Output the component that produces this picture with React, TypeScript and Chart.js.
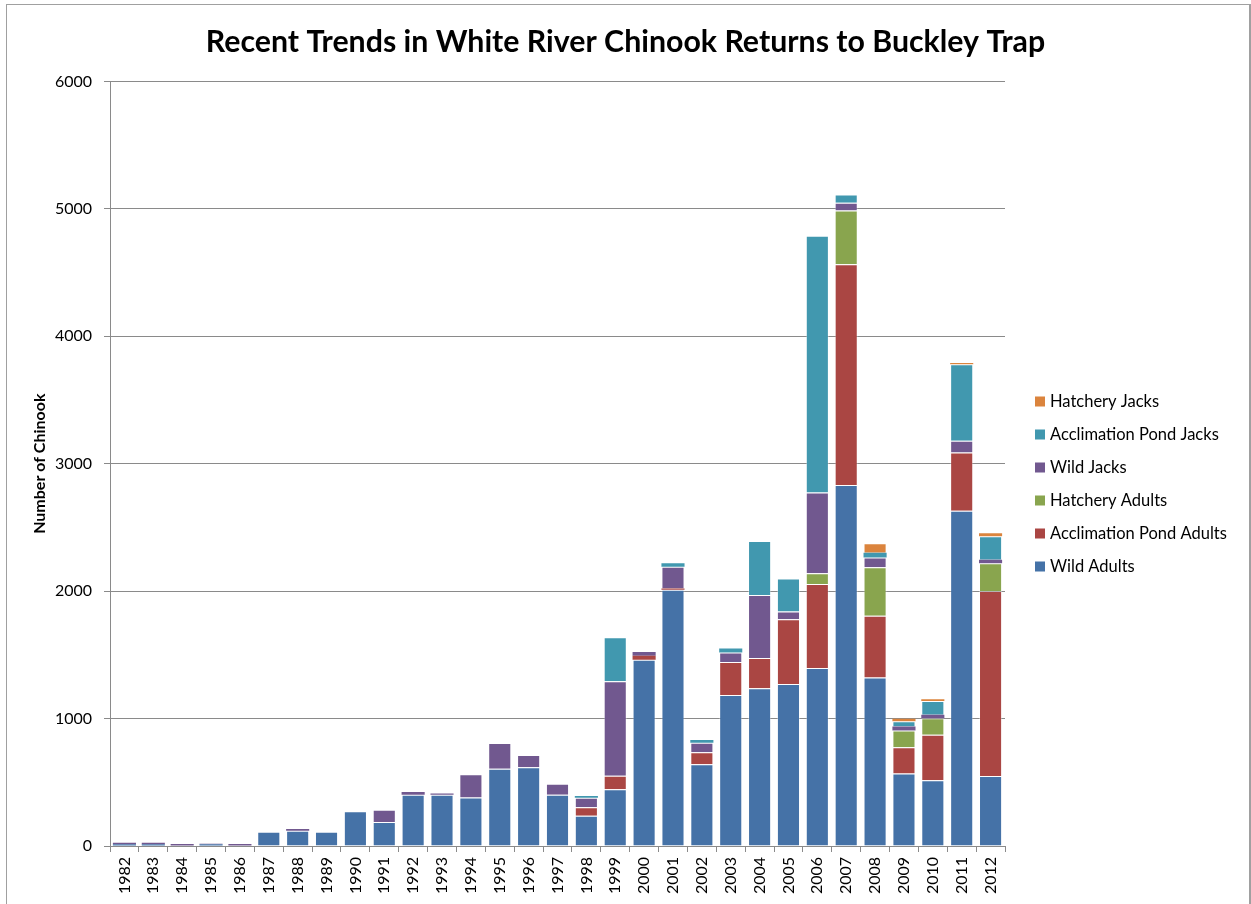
import React, { useEffect, useRef } from "react";
import { Chart, registerables } from "chart.js";

Chart.register(...registerables);

const years = [
  "1982", "1983", "1984", "1985", "1986", "1987", "1988", "1989", "1990", "1991",
  "1992", "1993", "1994", "1995", "1996", "1997", "1998", "1999", "2000", "2001",
  "2002", "2003", "2004", "2005", "2006", "2007", "2008", "2009", "2010", "2011", "2012",
];

const wildAdults = [
  14, 14, 4, 14, 4, 112, 120, 112, 272, 188,
  402, 403, 380, 607, 617, 402, 238, 445, 1462, 2010,
  641, 1185, 1237, 1271, 1397, 2832, 1322, 569, 515, 2631, 549,
];

const acclimationPondAdults = [
  0, 0, 0, 0, 0, 0, 0, 0, 0, 0,
  0, 0, 0, 0, 0, 0, 66, 107, 31, 10,
  94, 259, 239, 508, 658, 1732, 484, 205, 358, 457, 1452,
];

const hatcheryAdults = [
  0, 0, 0, 0, 0, 0, 0, 0, 0, 0,
  0, 0, 0, 0, 0, 0, 0, 0, 0, 0,
  0, 0, 0, 0, 85, 422, 382, 133, 129, 0, 218,
];

const wildJacks = [
  12, 12, 12, 3, 12, 0, 13, 0, 0, 96,
  22, 8, 183, 202, 97, 87, 75, 741, 30, 172,
  76, 75, 494, 61, 634, 62, 75, 30, 27, 92, 27,
];

const acclimationPondJacks = [
  0, 0, 0, 0, 0, 0, 0, 0, 0, 0,
  0, 0, 0, 0, 0, 0, 13, 345, 0, 27,
  21, 30, 423, 259, 2015, 64, 38, 41, 109, 600, 184,
];

const hatcheryJacks = [
  0, 0, 0, 0, 0, 0, 0, 0, 0, 0,
  0, 0, 0, 0, 0, 0, 0, 0, 0, 0,
  0, 0, 0, 0, 0, 0, 75, 21, 14, 10, 24,
];

const seriesNames = [
  "Wild Adults",
  "Acclimation Pond Adults",
  "Hatchery Adults",
  "Wild Jacks",
  "Acclimation Pond Jacks",
  "Hatchery Jacks",
];

const seriesColors = ["#4572A7", "#AA4643", "#89A54E", "#71588F", "#4198AF", "#DB843D"];

const FONT = "Lato, 'Open Sans', sans-serif";
const AXIS_GREY = "#8a8a8a";

// Legend listed top-down in reverse stacking order, beside the plot area.
const sideLegend = {
  id: "sideLegend",
  afterDraw(chart: any) {
    const { ctx, chartArea } = chart;
    const datasets = chart.data.datasets;
    const x = chartArea.right + 30;
    const firstY = 401.5;
    const step = 33;
    ctx.save();
    ctx.font = `16.5px ${FONT}`;
    ctx.textBaseline = "middle";
    ctx.textAlign = "left";
    for (let i = datasets.length - 1, row = 0; i >= 0; i--, row++) {
      const y = firstY + row * step;
      ctx.fillStyle = datasets[i].backgroundColor;
      ctx.fillRect(x, y - 5, 10, 10);
      ctx.fillStyle = "#000";
      ctx.fillText(datasets[i].label, x + 15, y + 0.5);
    }
    ctx.restore();
  },
};

export default function App() {
  const canvasRef = useRef<HTMLCanvasElement | null>(null);

  useEffect(() => {
    const canvas = canvasRef.current;
    if (!canvas) return;
    const seriesData = [
      wildAdults,
      acclimationPondAdults,
      hatcheryAdults,
      wildJacks,
      acclimationPondJacks,
      hatcheryJacks,
    ];
    const chart = new Chart(canvas, {
      type: "bar",
      data: {
        labels: years,
        datasets: seriesData.map((d, i) => ({
          label: seriesNames[i],
          data: d,
          backgroundColor: seriesColors[i],
          borderColor: "rgba(255,255,255,0.35)",
          // thin light edge on segments, skipped on slivers so their colour shows
          borderWidth: (c: any) => ((c.raw as number) < 40 ? 0 : 1),
          categoryPercentage: 0.8,
          barPercentage: 1.0,
          yAxisID: "y",
        })),
      },
      options: {
        animation: false,
        responsive: false,
        maintainAspectRatio: false,
        layout: { padding: 0 },
        plugins: {
          legend: { display: false },
          tooltip: { enabled: false },
          title: {
            display: true,
            text: "Recent Trends in White River Chinook Returns to Buckley Trap",
            color: "#000",
            font: { family: FONT, size: 30.3, weight: "bold" },
            padding: { top: 24, bottom: 21 },
          },
        },
        scales: {
          x: {
            stacked: true,
            afterFit(scale: any) {
              scale.height = 58;
            },
            grid: {
              display: true,
              drawOnChartArea: false,
              drawTicks: true,
              tickLength: 6,
              color: AXIS_GREY,
              offset: true,
            },
            border: { display: true, color: AXIS_GREY, width: 1 },
            ticks: {
              minRotation: 90,
              maxRotation: 90,
              autoSkip: false,
              padding: 5,
              color: "#000",
              font: { family: FONT, size: 16 },
            },
          },
          y: {
            stacked: true,
            position: "left",
            min: 0,
            max: 6000,
            afterFit(scale: any) {
              scale.width = 110;
            },
            grid: {
              color: AXIS_GREY,
              tickLength: 6,
              lineWidth: 1,
            },
            border: { display: true, color: AXIS_GREY, width: 1 },
            ticks: {
              stepSize: 1000,
              padding: 12,
              color: "#000",
              font: { family: FONT, size: 16 },
              callback: (v: any) => String(v),
            },
            title: {
              display: true,
              text: "Number of Chinook",
              color: "#000",
              font: { family: FONT, size: 16, weight: "bold" },
              padding: { top: 30, bottom: 0 },
            },
          },
          // empty right-hand gutter that holds the legend column
          legendGutter: {
            type: "linear",
            position: "right",
            display: true,
            afterFit(scale: any) {
              scale.width = 246;
            },
            grid: { display: false, drawTicks: false },
            border: { display: false },
            ticks: { display: false },
          },
        },
      },
      plugins: [sideLegend],
    });
    return () => chart.destroy();
  }, []);

  return (
    <div style={{ position: "absolute", left: 0, top: 0, width: 1251, height: 904, overflow: "hidden", background: "#fff" }}>
      <canvas ref={canvasRef} width={1251} height={904} style={{ position: "absolute", left: 0, top: 0 }} />
      <div
        style={{
          position: "absolute",
          left: 6,
          top: 4,
          width: 1242,
          height: 940,
          border: "1px solid #a0a0a0",
          borderRightWidth: 2,
          pointerEvents: "none",
        }}
      />
    </div>
  );
}
